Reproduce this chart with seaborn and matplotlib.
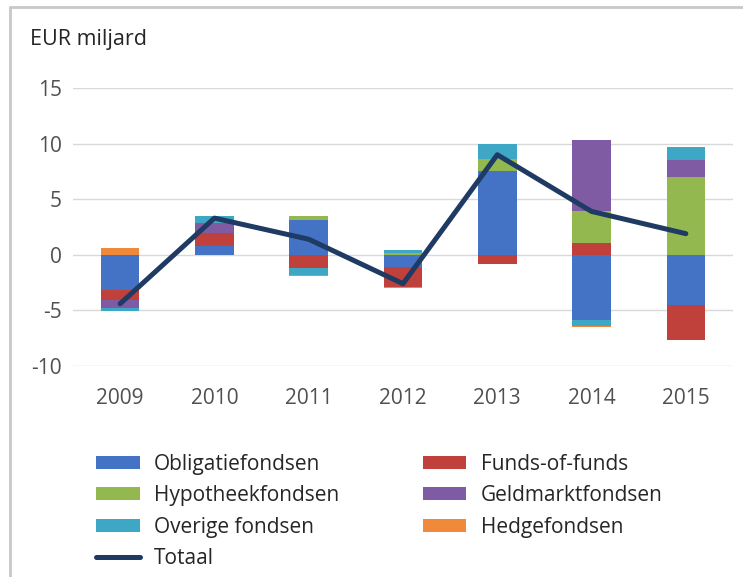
import numpy as np
import matplotlib
matplotlib.use("Agg")
import matplotlib.pyplot as plt
from matplotlib.patches import Patch
from matplotlib.lines import Line2D
import seaborn as sns
import pandas as pd

years = ["2009", "2010", "2011", "2012", "2013", "2014", "2015"]
obligatie = [-3.2, 0.75, 3.15, -1.1, 7.5, -5.85, -4.55]
funds_of_funds = [-0.85, 1.2, -1.2, -1.8, -0.85, 1.05, -3.15]
hypotheek = [0.0, 0.0, 0.35, 0.15, 1.1, 2.85, 7.0]
geldmarkt = [-0.75, 0.9, 0.0, 0.0, 0.0, 6.4, 1.55]
overige = [-0.25, 0.6, -0.6, 0.3, 1.4, -0.55, 1.15]
hedge = [0.6, 0.0, -0.15, -0.1, 0.0, -0.1, 0.0]
totaal = [-4.4, 3.3, 1.4, -2.6, 9.0, 3.9, 1.9]

series_names = ["Obligatiefondsen", "Funds-of-funds", "Hypotheekfondsen",
                "Geldmarktfondsen", "Overige fondsen", "Hedgefondsen"]
series_values = [obligatie, funds_of_funds, hypotheek, geldmarkt, overige, hedge]
colors = ["#4472C4", "#C0413B", "#93B84F", "#7F5BA3", "#3FA7C6", "#F08A3A"]
line_color = "#1F3A63"

sns.set_theme(style="white")
plt.rcParams["font.family"] = ["Open Sans", "DejaVu Sans"]

fig = plt.figure(figsize=(7.43, 5.77), dpi=100)
ax = fig.add_axes([73 / 743, 1 - 366 / 577, (733 - 73) / 743, (366 - 88) / 577])

x = np.arange(len(years))
pos_bottom = np.zeros(len(years))
neg_bottom = np.zeros(len(years))
for name, vals, c in zip(series_names, series_values, colors):
    v = np.array(vals, dtype=float)
    bottom = np.where(v >= 0, pos_bottom, neg_bottom)
    ax.bar(x, v, width=0.41, bottom=bottom, color=c, edgecolor="none", zorder=2)
    pos_bottom = pos_bottom + np.where(v >= 0, v, 0)
    neg_bottom = neg_bottom + np.where(v < 0, v, 0)

df_line = pd.DataFrame({"x": x, "Totaal": totaal})
sns.lineplot(data=df_line, x="x", y="Totaal", ax=ax, color=line_color,
             linewidth=3.6, zorder=3, legend=False)

ax.set_ylim(-10, 15)
ax.set_xlim(-0.5, len(years) - 0.5)
ax.set_yticks([-10, -5, 0, 5, 10, 15])
ax.set_yticklabels(["-10", "-5", "0", "5", "10", "15"])
ax.set_xticks(x)
ax.set_xticklabels(years)
ax.tick_params(axis="both", labelsize=15, colors="#505050", length=0)
ax.tick_params(axis="y", pad=8)
ax.tick_params(axis="x", pad=16)
ax.set_xlabel("")
ax.set_ylabel("")
ax.grid(axis="y", color="#D9D9D9", linewidth=1.0, zorder=0)
ax.grid(axis="x", visible=False)
for s in ax.spines.values():
    s.set_visible(False)

fig.text(30 / 743, 1 - 40 / 577, "EUR miljard", fontsize=15.5, color="#262626",
         va="center", ha="left")

# figure border (top and left)
fig.add_artist(Line2D([10 / 743, 1.0], [1 - 6.5 / 577, 1 - 6.5 / 577],
                      transform=fig.transFigure, color="#C8C8C8", linewidth=2))
fig.add_artist(Line2D([10 / 743, 10 / 743], [0, 1 - 6.5 / 577],
                      transform=fig.transFigure, color="#C8C8C8", linewidth=2))

handles = [Patch(facecolor=c, edgecolor="none") for c in colors]
handles.append(Line2D([0], [0], color=line_color, linewidth=3.6))
labels = series_names + ["Totaal"]
order = [0, 2, 4, 6, 1, 3, 5]
leg = fig.legend([handles[i] for i in order], [labels[i] for i in order],
                 loc="upper left", bbox_to_anchor=(77 / 743, 1 - 435 / 577),
                 ncol=2, frameon=False, fontsize=15, handlelength=2.1,
                 handleheight=0.6, handletextpad=0.7, columnspacing=4.0,
                 labelspacing=0.5, labelcolor="#262626")

fig.savefig("out.png", dpi=100, facecolor="white")
